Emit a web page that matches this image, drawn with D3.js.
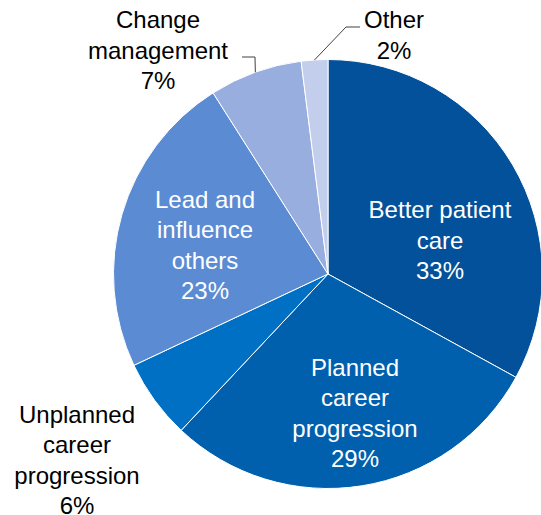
<!DOCTYPE html>
<html>
<head>
<meta charset="utf-8">
<script src="https://cdnjs.cloudflare.com/ajax/libs/d3/7.8.5/d3.min.js"></script>
<style>
  body { margin: 0; background: #fff; }
  #chart text { font-family: "Liberation Sans", Arial, sans-serif; font-size: 24px; }
</style>
</head>
<body>
<div id="chart"></div>
<script>
const width = 541
const height = 515

// data
const categories = ["Better patient care", "Planned career progression", "Unplanned career progression",
                    "Lead and influence others", "Change management", "Other"]
const values = [33, 29, 6, 23, 7, 2]
const labelLines = [
  ["Better patient", "care", "33%"],
  ["Planned", "career", "progression", "29%"],
  ["Unplanned", "career", "progression", "6%"],
  ["Lead and", "influence", "others", "23%"],
  ["Change", "management", "7%"],
  ["Other", "2%"]
]

// layout
const colors = ["#02519a", "#0060ad", "#0070c4", "#5a8bd3", "#97aedf", "#c3cdec"]
const cx = 328, cy = 274, radius = 214.5
const lineH = 30.5
// label block centre, relative to pie centre
const labelOffset = [[112, -34], [27, 139], [-251, 186], [-123, -29], [-170, -224], [66, -239]]
const inside = [true, true, false, true, false, false]

let svg = d3.select("#chart")
            .append("svg")
            .attr("width", width)
            .attr("height", height)

let g = svg.append("g")
           .attr("transform", "translate(" + cx + "," + cy + ")")

let pie = d3.pie().sort(null).value(d => d)
let arcs = pie(values)

let arc = d3.arc().innerRadius(0).outerRadius(radius)

g.selectAll("path.slice")
 .data(arcs)
 .enter()
 .append("path")
 .attr("class", "slice")
 .attr("d", arc)
 .attr("fill", (d, i) => colors[i])
 .attr("stroke", "#fff")
 .attr("stroke-width", 1)

// leader lines for the two small slices at the top
let edge = d3.arc().innerRadius(radius).outerRadius(radius)
let leaders = [
  {i: 4, elbow: [-73, -217], end: [-86, -217]},
  {i: 5, elbow: [18, -247], end: [32, -247]}
]
g.selectAll("path.leader")
 .data(leaders)
 .enter()
 .append("path")
 .attr("class", "leader")
 .attr("d", d => d3.line()([edge.centroid(arcs[d.i]), d.elbow, d.end]))
 .attr("fill", "none")
 .attr("stroke", "#404040")
 .attr("stroke-width", 1)

// labels
arcs.forEach(function(a, i) {
  let lines = labelLines[i]
  let off = labelOffset[i]
  let t = g.append("text")
           .attr("text-anchor", "middle")
           .attr("fill", inside[i] ? "#fff" : "#000")
  lines.forEach(function(s, k) {
    t.append("tspan")
     .attr("x", off[0])
     .attr("y", off[1] + (k - (lines.length - 1) / 2) * lineH + 8.5)
     .text(s)
  })
})
</script>
</body>
</html>
